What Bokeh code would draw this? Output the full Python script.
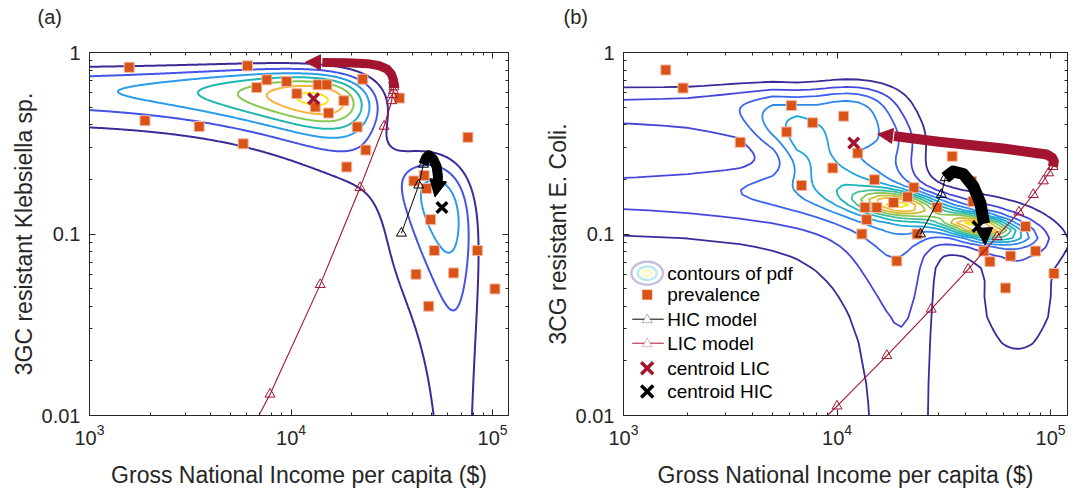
import numpy as np
from bokeh.plotting import figure
from bokeh.layouts import row
from bokeh.models import (FixedTicker, CustomJSTickFormatter, LogAxis, Arrow,
                          NormalHead, Label, PolyAnnotation)
from bokeh.embed import file_html
from bokeh.resources import INLINE

FONT = "Liberation Sans"
INK = "#262626"
ORANGE = "#D95319"
DARKRED = "#A2142F"

# ---------------- axes ----------------
X_RANGE = (1000, 120000)
Y_RANGE = (0.01, 1.0)
X_MAJOR = [1e3, 1e4, 1e5]
X_MINOR = [2e3, 3e3, 4e3, 5e3, 6e3, 7e3, 8e3, 9e3,
           2e4, 3e4, 4e4, 5e4, 6e4, 7e4, 8e4, 9e4]
Y_MAJOR = [0.01, 0.1, 1.0]
Y_MINOR = [0.02, 0.03, 0.04, 0.05, 0.06, 0.07, 0.08, 0.09,
           0.2, 0.3, 0.4, 0.5, 0.6, 0.7, 0.8, 0.9]

# ---------------- panel (a) data ----------------
a_prev_x = [1574, 6080, 7590, 9510, 6760, 10690, 1885, 3500, 5790, 13620, 15060,
            22700, 18290, 13180, 15350, 34500, 21300, 23500, 18900, 40700, 45800,
            47000, 49300, 51400, 84100, 41700, 64100, 102800, 48200, 75500]
a_prev_y = [0.829, 0.844, 0.707, 0.692, 0.641, 0.593, 0.421, 0.391, 0.314, 0.664, 0.664,
            0.713, 0.542, 0.501, 0.464, 0.561, 0.389, 0.290, 0.234, 0.196, 0.210,
            0.178, 0.120, 0.081, 0.081, 0.060, 0.061, 0.0498, 0.040, 0.341]
a_lic_line_x = [6920, 7870, 13960, 22000, 28950, 31600, 31800, 32200, 32400]
a_lic_line_y = [0.0100, 0.0131, 0.0526, 0.180, 0.392, 0.542, 0.585, 0.615, 0.645]
a_lic_mark_x = [7870, 13960, 22000, 28950, 31600, 31800, 32200, 32400, 32450, 32400, 32200]
a_lic_mark_y = [0.0131, 0.0526, 0.180, 0.392, 0.542, 0.585, 0.615, 0.645, 0.665, 0.685, 0.705]
a_lic_band_x = [32400, 32300, 31500, 30000, 27500, 24000, 19000, 14300]
a_lic_band_y = [0.645, 0.700, 0.760, 0.810, 0.845, 0.868, 0.878, 0.882]
a_lic_tip = (11800, 0.885)
a_hic_x = [35300, 43000, 45400]
a_hic_y = [0.101, 0.186, 0.242]
a_hic_band_x = [45400, 46800, 48300, 50800, 52800, 53600, 53200]
a_hic_band_y = [0.242, 0.263, 0.272, 0.258, 0.235, 0.207, 0.186]
a_hic_tip = (51800, 0.160)
a_centroid_lic = (12940, 0.556)
a_centroid_hic = (56100, 0.140)

# pdf (a): gaussian components (linear GNI, linear prevalence)
a_comp_mx = [12940, 56100, 25000]
a_comp_my = [0.556, 0.140, 0.035]
a_comp_sx = [8700, 18000, 18000]
a_comp_sy = [0.160, 0.090, 0.060]
a_comp_rho = [-0.25, -0.42, 0.0]
a_comp_amp = [7.25, 3.7, 0.6]
a_levels = [1, 2, 3, 4, 5, 6, 7]
a_colors = ["#3B2A98", "#4553E5", "#2C9CEA", "#1DB6B0", "#84C852", "#F8B53C", "#F6E719"]

# ---------------- panel (b) data ----------------
b_prev_x = [1578, 1900, 3520, 6110, 5810, 7690, 9550, 6820, 10740, 12500, 34600,
            14970, 22900, 21400, 18400, 13520, 15350, 29400, 13770, 13070, 23700,
            43300, 42600, 19050, 48700, 52000, 65000, 76400, 85100, 103700, 61500]
b_prev_y = [0.801, 0.637, 0.320, 0.510, 0.365, 0.410, 0.231, 0.185, 0.446, 0.279, 0.268,
            0.199, 0.180, 0.160, 0.149, 0.140, 0.140, 0.140, 0.120, 0.100, 0.100,
            0.151, 0.195, 0.071, 0.0805, 0.0704, 0.0756, 0.110, 0.0805, 0.0606, 0.0504]
b_lic_line_x = [9000, 10000, 17100, 27600, 41100, 56100, 71100, 83000, 92500, 97900, 102600]
b_lic_line_y = [0.0100, 0.01127, 0.0214, 0.0385, 0.0639, 0.0966, 0.132, 0.165, 0.196, 0.217, 0.235]
b_lic_mark_x = [10000, 17100, 27600, 41100, 56100, 71100, 83000, 92500, 97900, 102600]
b_lic_mark_y = [0.01127, 0.0214, 0.0385, 0.0639, 0.0966, 0.132, 0.165, 0.196, 0.217, 0.235]
b_lic_band_x = [102600, 103500, 101500, 96000, 60000, 30000, 18500]
b_lic_band_y = [0.235, 0.252, 0.264, 0.274, 0.296, 0.322, 0.346]
b_lic_tip = (15500, 0.355)
b_hic_x = [24600, 30800, 32100]
b_hic_y = [0.100, 0.165, 0.204]
b_hic_band_x = [32100, 35000, 39000, 43500, 46900, 48800]
b_hic_band_y = [0.204, 0.221, 0.214, 0.183, 0.148, 0.114]
b_hic_tip = (49400, 0.087)
b_centroid_lic = (11970, 0.317)
b_centroid_hic = (45700, 0.110)

# pdf (b): gaussian mixture, some components in log space, some in linear space
b_log_cx = [19500, 46000, 34000, 7000, 70000, 12000]
b_log_cy = [0.146, 0.110, 0.120, 0.310, 0.045, 0.500]
b_log_su = [0.13, 0.13, 0.30, 0.146, 0.15, 0.15]
b_log_sv = [0.050, 0.050, 0.120, 0.169, 0.280, 0.100]
b_log_rho = [-0.30, -0.55, -0.50, -0.66, 0.0, 0.0]
b_log_amp = [6.6, 8.0, 3.8, 3.0, 1.7, 2.0]
b_lin_cx = [6000, 8000, 15000, 19000, 21000]
b_lin_cy = [0.490, 0.165, 0.300, 0.075, 0.0]
b_lin_sx = [9000, 9000, 7000, 6500, 6000]
b_lin_sy = [0.120, 0.050, 0.100, 0.035, 0.040]
b_lin_amp = [2.6, 2.9, 3.2, 2.2, 1.25]
b_levels = [1, 2, 3, 4, 5, 6, 7, 8, 9, 10, 11]
b_colors = ["#3B2A98", "#4547DA", "#3B63F0", "#2D8AEC", "#1FA5DC", "#19B5BD",
            "#45BE9A", "#88C65A", "#C9BF3A", "#F7B93A", "#F6E719"]


def gauss2(X, Y, mx, my, sx, sy, rho):
    dx = (X - mx) / sx
    dy = (Y - my) / sy
    q = (dx * dx + dy * dy - 2 * rho * dx * dy) / (1 - rho * rho)
    return np.exp(-0.5 * q)


def pdf_a(X, Y):
    z = np.zeros_like(X)
    for mx, my, sx, sy, r, a in zip(a_comp_mx, a_comp_my, a_comp_sx, a_comp_sy, a_comp_rho, a_comp_amp):
        z += a * gauss2(X, Y, mx, my, sx, sy, r)
    return z


def pdf_b(X, Y):
    z = np.zeros_like(X)
    U, V = np.log10(X), np.log10(Y)
    for cx, cy, su, sv, r, a in zip(b_log_cx, b_log_cy, b_log_su, b_log_sv, b_log_rho, b_log_amp):
        z += a * gauss2(U, V, np.log10(cx), np.log10(cy), su, sv, r)
    for cx, cy, sx, sy, a in zip(b_lin_cx, b_lin_cy, b_lin_sx, b_lin_sy, b_lin_amp):
        z += a * gauss2(X, Y, cx, cy, sx, sy, 0.0)
    return z


def setup_axes(p, xlabel, ylabel, title):
    xt = FixedTicker(ticks=X_MAJOR, minor_ticks=X_MINOR)
    yt = FixedTicker(ticks=Y_MAJOR, minor_ticks=Y_MINOR)
    bx = p.below[0]
    ly = p.left[0]
    bx.ticker = xt
    ly.ticker = yt
    ly.formatter = CustomJSTickFormatter(code="return String(Math.round(tick*100)/100);")
    bx.axis_label = xlabel
    ly.axis_label = ylabel
    top = LogAxis(ticker=xt, formatter=CustomJSTickFormatter(code="return '';"))
    right = LogAxis(ticker=yt, formatter=CustomJSTickFormatter(code="return '';"))
    for ax in (bx, ly, top, right):
        ax.major_tick_in = 6
        ax.major_tick_out = 0
        ax.minor_tick_in = 3
        ax.minor_tick_out = 0
        ax.axis_line_color = INK
        ax.major_tick_line_color = INK
        ax.minor_tick_line_color = INK
        ax.major_label_text_font = FONT
        ax.major_label_text_color = INK
        ax.major_label_text_font_size = "20px"
        ax.axis_label_text_font = FONT
        ax.axis_label_text_color = INK
        ax.axis_label_text_font_size = "23px"
        ax.axis_label_text_font_style = "normal"
    for ax in (top, right):
        ax.major_label_text_font_size = "0px"
        ax.major_label_standoff = 0
    # blank spacer label on the top axis lifts the panel title away from the frame
    top.axis_label = "\u00a0"
    top.axis_label_text_font_size = "20px"
    top.axis_label_standoff = 0
    bx.major_label_standoff = 8
    bx.axis_label_standoff = 14
    ly.major_label_standoff = 9
    ly.axis_label_standoff = 2
    p.add_layout(top, "above")
    p.add_layout(right, "right")
    p.xgrid.visible = False
    p.ygrid.visible = False
    p.outline_line_color = INK
    p.title.text = title
    p.title.align = "left"
    p.title.text_font = FONT
    p.title.text_font_size = "20px"
    p.title.text_font_style = "normal"
    p.title.text_color = INK
    p.title.standoff = 0


def make_fig(width, left, right, top, bottom):
    p = figure(width=width, height=490, x_axis_type="log", y_axis_type="log",
               x_range=X_RANGE, y_range=Y_RANGE, output_backend="svg",
               toolbar_location=None, min_border_left=left, min_border_right=right,
               min_border_top=top, min_border_bottom=bottom)
    p.background_fill_color = "white"
    p.border_fill_color = "white"
    return p


def draw_common(p, prev_x, prev_y, lic_lx, lic_ly, lic_mx, lic_my, hic_x, hic_y,
                c_lic, c_hic, lic_bx, lic_by, lic_tip, hic_bx, hic_by, hic_tip,
                band_w_lic, band_w_hic):
    p.scatter(prev_x, prev_y, marker="square", size=10, fill_color=ORANGE,
              line_color="#F2B89E", line_width=1)
    p.line(lic_lx, lic_ly, line_color=DARKRED, line_width=1.1)
    p.scatter(lic_mx, lic_my, marker="triangle", size=10, fill_color=None,
              line_color=DARKRED, line_width=1)
    p.line(hic_x, hic_y, line_color="black", line_width=1)
    p.scatter(hic_x, hic_y, marker="triangle", size=10, fill_color=None,
              line_color="black", line_width=1)
    p.scatter([c_lic[0]], [c_lic[1]], marker="x", size=15, line_color=DARKRED, line_width=3.5)
    p.scatter([c_hic[0]], [c_hic[1]], marker="x", size=15, line_color="black", line_width=3.5)
    p.line(lic_bx, lic_by, line_color=DARKRED, line_width=band_w_lic, line_join="round")
    p.add_layout(Arrow(end=NormalHead(size=15, fill_color=DARKRED, line_color=DARKRED),
                       x_start=lic_bx[-1], y_start=lic_by[-1], x_end=lic_tip[0], y_end=lic_tip[1],
                       line_alpha=0))
    p.line(hic_bx, hic_by, line_color="black", line_width=band_w_hic, line_join="round")
    p.add_layout(Arrow(end=NormalHead(size=17, fill_color="black", line_color="black"),
                       x_start=hic_bx[-1], y_start=hic_by[-1], x_end=hic_tip[0], y_end=hic_tip[1],
                       line_alpha=0))


# ---------------- panel (a) ----------------
pa = make_fig(540, 89, 32, 51, 74)
setup_axes(pa, "Gross National Income per capita ($)", "3GC resistant Klebsiella sp.", "(a)")
pa.title.offset = -52
gx = 10 ** np.linspace(2.8, 5.3, 420)
gy = 10 ** np.linspace(-2.3, 0.15, 420)
GX, GY = np.meshgrid(gx, gy)
pa.contour(gx, gy, pdf_a(GX, GY), a_levels, line_color=a_colors, line_width=2)
draw_common(pa, a_prev_x, a_prev_y, a_lic_line_x, a_lic_line_y, a_lic_mark_x, a_lic_mark_y,
            a_hic_x, a_hic_y, a_centroid_lic, a_centroid_hic, a_lic_band_x, a_lic_band_y,
            a_lic_tip, a_hic_band_x, a_hic_band_y, a_hic_tip, 9, 10)

# ---------------- panel (b) ----------------
pb = make_fig(541, 83, 14, 52, 71)
setup_axes(pb, "Gross National Income per capita ($)", "3CG resistant E. Coli.", "(b)")
pb.title.offset = -60
hx = np.arange(500, 150001, 1500.0)
hy = np.arange(0.005, 1.3, 0.01)
HX, HY = np.meshgrid(hx, hy)
pb.contour(hx, hy, pdf_b(HX, HY), b_levels, line_color=b_colors, line_width=1.8)
draw_common(pb, b_prev_x, b_prev_y, b_lic_line_x, b_lic_line_y, b_lic_mark_x, b_lic_mark_y,
            b_hic_x, b_hic_y, b_centroid_lic, b_centroid_hic, b_lic_band_x, b_lic_band_y,
            b_lic_tip, b_hic_band_x, b_hic_band_y, b_hic_tip, 10, 12)

# ---------------- legend (b), drawn in screen units ----------------
LEG_ICON_X = 23.7
LEG_TEXT_X = 43.7
LEG_ROWS = [142.3, 120.7, 96.3, 72.3, 47.3, 24.0]
legend_labels = ["contours of pdf", "prevalence", "HIC model", "LIC model",
                 "centroid LIC", "centroid HIC"]


def ellipse(cx, cy, rx, ry, n=48):
    t = np.linspace(0, 2 * np.pi, n)
    return list(cx + rx * np.cos(t)), list(cy + ry * np.sin(t))


for (rx, ry, col, lw) in [(15.8, 11.5, b_colors[0], 2.4), (9.5, 6.7, b_colors[5], 2.4),
                          (4.6, 2.8, b_colors[-1], 2.4)]:
    ex, ey = ellipse(LEG_ICON_X, LEG_ROWS[0], rx, ry)
    pb.add_layout(PolyAnnotation(xs=ex, ys=ey, xs_units="screen", ys_units="screen",
                                 fill_alpha=0, line_color=col, line_width=lw))
s = 5
cx, cy = LEG_ICON_X, LEG_ROWS[1]
pb.add_layout(PolyAnnotation(xs=[cx - s, cx + s, cx + s, cx - s], ys=[cy - s, cy - s, cy + s, cy + s],
                             xs_units="screen", ys_units="screen", fill_color=ORANGE,
                             fill_alpha=1, line_color="#F2B89E", line_width=1))
for row_y, col in [(LEG_ROWS[2], "black"), (LEG_ROWS[3], DARKRED)]:
    pb.add_layout(Arrow(end=None, x_start=8.7, y_start=row_y, x_end=40.3, y_end=row_y,
                        start_units="screen", end_units="screen", line_color=col, line_width=1))
    pb.add_layout(PolyAnnotation(xs=[LEG_ICON_X - 5, LEG_ICON_X + 5, LEG_ICON_X],
                                 ys=[row_y - 3.5, row_y - 3.5, row_y + 5],
                                 xs_units="screen", ys_units="screen", fill_color="white",
                                 fill_alpha=1, line_color=col, line_width=1))
for row_y, col in [(LEG_ROWS[4], DARKRED), (LEG_ROWS[5], "black")]:
    d = 6
    for (x0, y0, x1, y1) in [(-d, -d, d, d), (-d, d, d, -d)]:
        pb.add_layout(Arrow(end=None, x_start=LEG_ICON_X + x0, y_start=row_y + y0,
                            x_end=LEG_ICON_X + x1, y_end=row_y + y1,
                            start_units="screen", end_units="screen",
                            line_color=col, line_width=3.5))
for txt, row_y in zip(legend_labels, LEG_ROWS):
    pb.add_layout(Label(x=LEG_TEXT_X, y=row_y, x_units="screen", y_units="screen", text=txt,
                        text_font=FONT, text_font_size="19px", text_color="black",
                        text_baseline="middle", text_align="left"))

layout = row(pa, pb)
open("out.html", "w").write(file_html(layout, INLINE, title="GNI vs resistance"))
